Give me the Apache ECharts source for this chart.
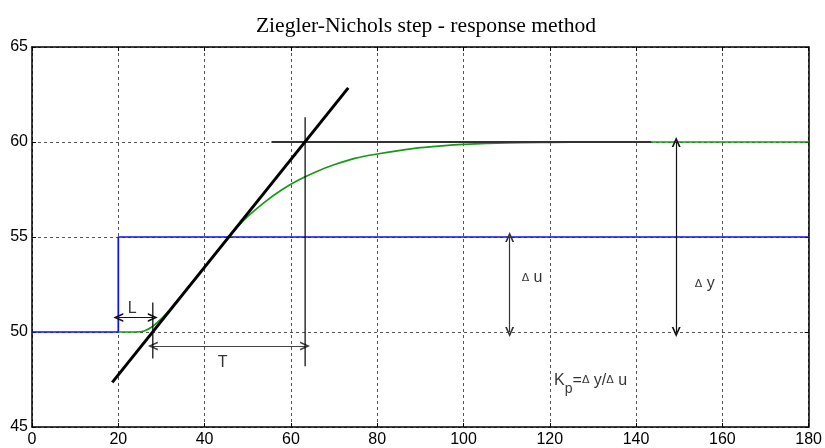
<!DOCTYPE html>
<html>
<head>
<meta charset="utf-8">
<script src="https://cdn.jsdelivr.net/npm/echarts@6/dist/echarts.min.js"></script>
<style>
html,body{margin:0;padding:0;background:#fff;}
#chart{width:825px;height:448px;}
</style>
</head>
<body>
<div id="chart"></div>
<script>
// ---- data ----
const xTicks = [0, 20, 40, 60, 80, 100, 120, 140, 160, 180];
const yTicks = [45, 50, 55, 60, 65];
const inputX = [0, 20, 20, 180];
const inputY = [50, 50, 55, 55];
const responseX = [20, 24, 26, 28, 30, 32, 34, 36, 38, 40, 42, 44, 46, 48, 50, 54, 58, 62, 66, 70, 75, 80, 85, 90, 95, 100, 110, 120, 130, 180];
const responseY = [50, 50, 50.05, 50.3, 50.7, 51.2, 51.75, 52.3, 52.85, 53.42, 53.98, 54.55, 55.1, 55.62, 56.08, 56.85, 57.5, 58.02, 58.45, 58.8, 59.15, 59.37, 59.55, 59.7, 59.8, 59.87, 59.95, 59.98, 60, 60];
const tangentX = [18.6, 73.3];
const tangentY = [47.35, 62.85];
const finalLineX = [55.5, 143.5];
const finalLineY = [60, 60];
const markT = [63.3, 48.2, 61.3];   // x, yFrom, yTo
const markL = [28, 48.6, 51.55];
const arrowL = [20, 28, 50.76];     // xFrom, xTo, y
const arrowT = [28, 63.3, 49.26];
const arrowDu = [110.7, 50, 55];    // x, yFrom, yTo
const arrowDy = [149.3, 50, 60];
const labelTexts = ['L', 'T', '{d|Δ} u', '{d|Δ} y', 'K{s|p}={d|Δ} y/{d|Δ} u'];
const labelPos = [[23.25, 51.23], [44.2, 48.4], [115.9, 52.85], [155.9, 52.54], [121.0, 47.46]];

const zip = (xs, ys) => xs.map((x, i) => [x, ys[i]]);
const chev = 'path://M0,10 L5,0 L10,10 L8,10 L5,3.8 L2,10 Z';

const chart = echarts.init(document.getElementById('chart'), null, {renderer: 'canvas'});
const axisFont = {fontFamily: 'Liberation Sans', fontSize: 16, color: '#000'};
const textStyleRich = {
  d: {fontFamily: 'DejaVu Sans', fontSize: 11, color: '#000'},
  s: {fontFamily: 'Liberation Sans', fontSize: 14, color: '#000', verticalAlign: 'bottom', lineHeight: 32}
};

function arrowLine(p1, p2, color) {
  return [{coord: p1}, {coord: p2, lineStyle: {color: color}}];
}

const option = {
  animation: false,
  backgroundColor: '#fff',
  title: {
    text: 'Ziegler-Nichols step - response method',
    left: 421, top: 10, textAlign: 'center',
    textStyle: {fontFamily: 'Liberation Serif', fontSize: 21.6, fontWeight: 'normal', color: '#000'}
  },
  grid: {left: 32, right: 15, top: 47, bottom: 19, containLabel: false},
  xAxis: [{
    type: 'value', min: 0, max: 180, interval: 20, position: 'bottom',
    axisLine: {show: true, onZero: false, lineStyle: {color: '#000', width: 1.5}},
    axisTick: {show: true, inside: true, length: 4, lineStyle: {color: '#000'}},
    axisLabel: Object.assign({margin: 5, showMinLabel: true, showMaxLabel: true,
      formatter: v => xTicks.includes(v) ? String(v) : ''}, axisFont),
    splitLine: {show: true, lineStyle: {type: [3, 3], color: '#555', width: 1}}
  }, {
    type: 'value', min: 0, max: 180, interval: 20, position: 'top',
    axisLine: {show: true, onZero: false, lineStyle: {color: '#000', width: 1.5}},
    axisTick: {show: true, inside: true, length: 4, lineStyle: {color: '#000'}},
    axisLabel: {show: false}, splitLine: {show: false}
  }],
  yAxis: [{
    type: 'value', min: 45, max: 65, interval: 5, position: 'left',
    axisLine: {show: true, onZero: false, lineStyle: {color: '#000', width: 1.5}},
    axisTick: {show: true, inside: true, length: 4, lineStyle: {color: '#000'}},
    axisLabel: Object.assign({margin: 4, showMinLabel: true, showMaxLabel: true,
      formatter: v => yTicks.includes(v) ? String(v) : ''}, axisFont),
    splitLine: {show: true, lineStyle: {type: [3, 3], color: '#555', width: 1}}
  }, {
    type: 'value', min: 45, max: 65, interval: 5, position: 'right',
    axisLine: {show: true, onZero: false, lineStyle: {color: '#000', width: 1.5}},
    axisTick: {show: true, inside: true, length: 4, lineStyle: {color: '#000'}},
    axisLabel: {show: false}, splitLine: {show: false}
  }],
  series: [
    {
      name: 'input', type: 'line', data: zip(inputX, inputY), showSymbol: false,
      lineStyle: {color: '#1010f0', width: 1.7}, z: 3
    },
    {
      name: 'response', type: 'line', data: zip(responseX, responseY), showSymbol: false,
      smooth: 0.3,
      lineStyle: {color: '#169a16', width: 1.7}, z: 4
    },
    {
      name: 'final', type: 'line', data: zip(finalLineX, finalLineY), showSymbol: false,
      lineStyle: {color: '#333', width: 2}, z: 5
    },
    {
      name: 'tangent', type: 'line', data: zip(tangentX, tangentY), showSymbol: false,
      lineStyle: {color: '#000', width: 3}, z: 6
    },
    {
      name: 'markT', type: 'line', data: [[markT[0], markT[1]], [markT[0], markT[2]]], showSymbol: false,
      lineStyle: {color: '#000', width: 1.2}, z: 6
    },
    {
      name: 'markL', type: 'line', data: [[markL[0], markL[1]], [markL[0], markL[2]]], showSymbol: false,
      lineStyle: {color: '#000', width: 1.2}, z: 6
    },
    {
      name: 'arrows', type: 'line', data: [], z: 7,
      markLine: {
        silent: true, animation: false,
        symbol: [chev, chev], symbolSize: [9, 10],
        label: {show: false},
        lineStyle: {type: 'solid', color: '#111', width: 1.2},
        emphasis: {disabled: true},
        data: [
          arrowLine([arrowL[0], arrowL[2]], [arrowL[1], arrowL[2]], '#111'),
          arrowLine([arrowT[0], arrowT[2]], [arrowT[1], arrowT[2]], '#444'),
          arrowLine([arrowDu[0], arrowDu[1]], [arrowDu[0], arrowDu[2]], '#333'),
          arrowLine([arrowDy[0], arrowDy[1]], [arrowDy[0], arrowDy[2]], '#111')
        ]
      }
    },
    {
      name: 'labels', type: 'scatter', symbolSize: 0, z: 8, silent: true,
      data: labelPos.map((p, i) => ({
        value: p,
        label: {
          show: true,
          formatter: labelTexts[i],
          position: i === 4 ? 'right' : 'inside',
          distance: 0,
          fontFamily: 'Liberation Sans', fontSize: 16, color: '#000',
          rich: textStyleRich
        }
      }))
    }
  ]
};
chart.setOption(option);
</script>
</body>
</html>
